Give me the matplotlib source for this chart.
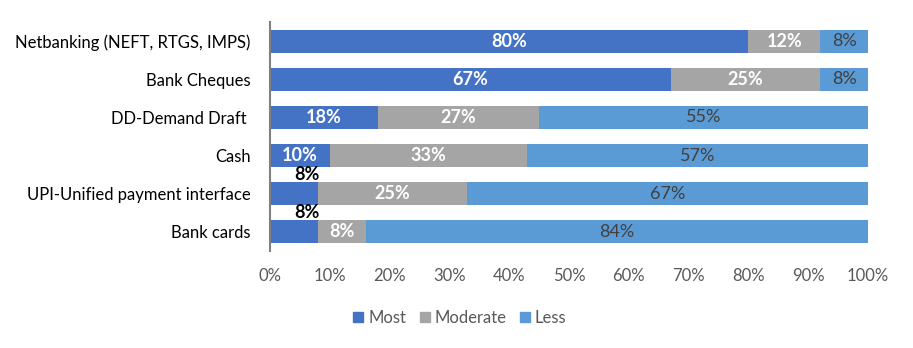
import matplotlib
matplotlib.use("Agg")
import matplotlib.pyplot as plt
from matplotlib.patches import Patch

categories = ["Netbanking (NEFT, RTGS, IMPS)", "Bank Cheques", "DD-Demand Draft ",
              "Cash", "UPI-Unified payment interface", "Bank cards"]
most = [80, 67, 18, 10, 8, 8]
moderate = [12, 25, 27, 33, 25, 8]
less = [8, 8, 55, 57, 67, 84]
series_names = ["Most", "Moderate", "Less"]
xticks = [0, 10, 20, 30, 40, 50, 60, 70, 80, 90, 100]

colors = ["#4472C4", "#A5A5A5", "#5B9BD5"]
plt.rcParams['font.family'] = ['Lato', 'DejaVu Sans']
fs = 12
fl = 13

fig = plt.figure(figsize=(9.13, 3.48), dpi=100)
ax = fig.add_axes([270/913, 1-251/348, 598/913, 229/348])

y = list(range(len(categories)))
h = 0.6
ax.barh(y, most, height=h, color=colors[0])
ax.barh(y, moderate, left=most, height=h, color=colors[1])
left3 = [a + b for a, b in zip(most, moderate)]
ax.barh(y, less, left=left3, height=h, color=colors[2])

for i in y:
    if most[i] >= 10:
        ax.text(most[i]/2, i, f"{most[i]}%", ha="center", va="center",
                color="white", fontweight="bold", fontsize=fl)
    else:
        ax.text(most[i]/2 + 2.2, i - 0.28, f"{most[i]}%", ha="center", va="bottom",
                color="black", fontweight="bold", fontsize=fl)
    ax.text(most[i] + moderate[i]/2, i, f"{moderate[i]}%", ha="center", va="center",
            color="white", fontweight="bold", fontsize=fl)
    ax.text(left3[i] + less[i]/2, i, f"{less[i]}%", ha="center", va="center",
            color="#404040", fontsize=fl)

ax.set_ylim(len(categories) - 0.5, -0.5)
ax.set_xlim(0, 100)
ax.set_yticks(y)
ax.set_yticklabels(categories, fontsize=fs, color="#000000")
ax.set_xticks(xticks)
ax.set_xticklabels([f"{t}%" for t in xticks], fontsize=fs, color="#595959")
ax.tick_params(axis="both", length=0)
ax.tick_params(axis="y", pad=14)
ax.tick_params(axis="x", pad=12)
for s in ["top", "right", "bottom"]:
    ax.spines[s].set_visible(False)
ax.spines["left"].set_color("#808080")
ax.spines["left"].set_linewidth(1.5)

handles = [Patch(color=c) for c in colors]
fig.legend(handles, series_names, loc="center", bbox_to_anchor=(460/913, 1-318/348),
           ncol=3, frameon=False, fontsize=fs, handlelength=0.6, handleheight=0.6,
           handletextpad=0.3, columnspacing=0.8, labelcolor="#595959")

fig.savefig("out.png", dpi=100)
